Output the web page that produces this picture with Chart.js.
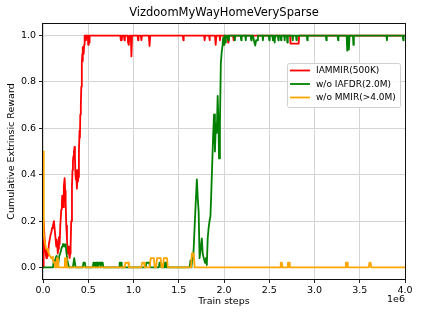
<!DOCTYPE html>
<html>
<head>
<meta charset="utf-8">
<script src="https://cdn.jsdelivr.net/npm/chart.js@4/dist/chart.umd.min.js"></script>
<style>
  html, body { margin: 0; padding: 0; background: #fff; }
  #wrap { width: 423px; height: 317px; }
</style>
</head>
<body>
<div id="wrap"><canvas id="rewardChart" width="423" height="317"></canvas></div>
<script>
// Train steps are in millions (axis shows "1e6" as multiplier)
const chartTitle = 'VizdoomMyWayHomeVerySparse';
const seriesLabels = ['IAMMIR(500K)', 'w/o IAFDR(2.0M)', 'w/o MMIR(>4.0M)'];
const xTicks = [0, 0.5, 1.0, 1.5, 2.0, 2.5, 3.0, 3.5, 4.0];
const yTicks = [0, 0.2, 0.4, 0.6, 0.8, 1.0];

const iammirSteps = [
  0, 0.007, 0.018, 0.029, 0.037, 0.044, 0.055, 0.065, 0.074, 0.083, 0.092, 0.1, 0.11, 0.121, 0.13, 0.14,
  0.147, 0.152, 0.158, 0.163, 0.169, 0.176, 0.184, 0.191, 0.202, 0.208, 0.213, 0.221, 0.228, 0.232, 0.239,
  0.245, 0.25, 0.257, 0.265, 0.27, 0.276, 0.282, 0.287, 0.294, 0.3, 0.305, 0.312, 0.32, 0.326, 0.331,
  0.336, 0.342, 0.349, 0.353, 0.357, 0.362, 0.368, 0.375, 0.382, 0.386, 0.39, 0.397, 0.404, 0.408, 0.412,
  0.418, 0.423, 0.429, 0.434, 0.438, 0.441, 0.449, 0.455, 0.46,
  0.47, 0.475, 0.48, 0.495, 0.5, 0.505, 0.51, 0.515,
  0.855, 0.86, 0.87, 0.875, 0.895, 0.9, 0.905, 0.935, 0.94, 0.945, 0.95, 0.955, 0.97, 0.977, 0.985,
  1.045, 1.05, 1.055, 1.08, 1.087, 1.094, 1.17, 1.177, 1.185, 1.545, 1.55, 1.555, 1.78, 1.786, 1.792,
  1.835, 1.84, 1.845, 1.9, 1.908, 1.916, 1.95, 1.955, 1.96, 2.004, 2.01, 2.016, 2.04, 2.045, 2.05,
  2.1, 2.107, 2.114, 2.73, 2.735, 2.825, 2.83, 4.0
];
const iammirReward = [
  0, 0.2, 0.12, 0.06, 0.04, 0.08, 0.05, 0.1, 0.12, 0.14, 0.15, 0.17, 0.18, 0.2, 0.16, 0.12,
  0.09, 0.12, 0.1, 0.06, 0.08, 0.13, 0.1, 0.18, 0.25, 0.28, 0.31, 0.26, 0.32, 0.35, 0.385,
  0.33, 0.29, 0.18, 0.12, 0.08, 0.06, 0.09, 0.07, 0.04, 0.06, 0.09, 0.2, 0.35, 0.42, 0.46,
  0.48, 0.5, 0.52, 0.47, 0.42, 0.38, 0.39, 0.34, 0.42, 0.37, 0.39, 0.5, 0.59, 0.56, 0.66,
  0.7, 0.78, 0.88, 0.92, 0.89, 0.95, 0.92, 0.96, 1.0,
  1.0, 0.98, 1.0, 1.0, 0.96, 1.0, 0.97, 1.0,
  1.0, 0.98, 0.98, 1.0, 1.0, 0.98, 1.0, 1.0, 0.97, 0.99, 0.96, 1.0, 1.0, 0.91, 1.0,
  1.0, 0.98, 1.0, 1.0, 0.98, 1.0, 1.0, 0.955, 1.0, 1.0, 0.98, 1.0, 1.0, 0.98, 1.0,
  1.0, 0.98, 1.0, 1.0, 0.96, 1.0, 1.0, 0.98, 1.0, 1.0, 0.98, 1.0, 1.0, 0.97, 1.0,
  1.0, 0.98, 1.0, 1.0, 0.965, 0.965, 1.0, 1.0
];

const iafdrSteps = [
  0, 0.11, 0.12, 0.13, 0.14, 0.15, 0.16, 0.17, 0.18, 0.19, 0.2, 0.21, 0.22, 0.23, 0.24, 0.25, 0.26, 0.27, 0.28, 0.29,
  0.33, 0.345, 0.36, 0.44, 0.447, 0.463, 0.47,
  0.55, 0.557, 0.57, 0.577, 0.585, 0.6, 0.607, 0.615, 0.63, 0.637, 0.645, 0.66, 0.667,
  0.84, 0.847, 0.863, 0.87, 1.135, 1.142, 1.175, 1.182, 1.28, 1.287, 1.3, 1.307, 1.34, 1.347, 1.36, 1.367,
  1.62, 1.63, 1.64, 1.65, 1.66, 1.676, 1.69, 1.7, 1.71, 1.72, 1.73, 1.74, 1.755, 1.765, 1.776, 1.79,
  1.8, 1.81, 1.82, 1.83, 1.84, 1.85, 1.86, 1.87, 1.88, 1.89, 1.9, 1.91, 1.92, 1.93, 1.94, 1.945,
  1.955, 1.965, 1.975, 1.985, 1.99, 2.0, 2.005, 2.015, 2.02, 2.03, 2.04, 2.05, 2.055,
  2.115, 2.12, 2.125, 2.185, 2.19, 2.195, 2.235, 2.24, 2.245, 2.295, 2.3, 2.305, 2.32, 2.33, 2.345, 2.355, 2.37, 2.375,
  2.425, 2.43, 2.435, 2.495, 2.5, 2.505, 2.535, 2.54, 2.55, 2.56, 2.565, 2.595, 2.6, 2.605, 2.625, 2.63, 2.635,
  2.665, 2.67, 2.675, 2.695, 2.7, 2.705, 2.755, 2.76, 2.765, 2.795, 2.8, 2.805, 2.915, 2.92, 2.925,
  3.125, 3.13, 3.135, 3.255, 3.26, 3.265, 3.355, 3.362, 3.372, 3.38, 3.387, 3.425, 3.43, 3.435,
  3.795, 3.8, 3.805, 3.975, 3.98, 3.985, 4.0
];
const iafdrReward = [
  0, 0, 0.03, 0.02, 0.04, 0.05, 0.03, 0.02, 0.05, 0.06, 0.075, 0.09, 0.1, 0.1, 0.09, 0.1, 0.06, 0.03, 0.01, 0,
  0, 0.04, 0, 0, 0.02, 0.02, 0,
  0, 0.02, 0.02, 0, 0.02, 0.02, 0, 0.02, 0.02, 0, 0.02, 0.02, 0,
  0, 0.02, 0.02, 0, 0, 0.02, 0.02, 0, 0, 0.02, 0.02, 0, 0, 0.02, 0.02, 0,
  0, 0.03, 0, 0.04, 0.04, 0.18, 0.3, 0.38, 0.3, 0.24, 0.04, 0.07, 0.125, 0.06, 0.04, 0.02,
  0.04, 0.01, 0.125, 0.17, 0.2, 0.22, 0.33, 0.45, 0.57, 0.66, 0.5, 0.62, 0.58, 0.74, 0.6, 0.47,
  0.62, 0.88, 0.93, 0.96, 0.99, 0.96, 1.0, 0.97, 1.0, 0.99, 1.0, 0.98, 1.0,
  1.0, 0.98, 1.0, 1.0, 0.98, 1.0, 1.0, 0.98, 1.0, 1.0, 0.98, 1.0, 1.0, 0.98, 0.957, 0.98, 0.98, 1.0,
  1.0, 0.98, 1.0, 1.0, 0.98, 1.0, 1.0, 0.98, 1.0, 0.97, 1.0, 1.0, 0.98, 1.0, 1.0, 0.98, 1.0,
  1.0, 0.98, 1.0, 1.0, 0.97, 1.0, 1.0, 0.98, 1.0, 1.0, 0.98, 1.0, 1.0, 0.98, 1.0,
  1.0, 0.98, 1.0, 1.0, 0.98, 1.0, 1.0, 0.935, 1.0, 0.94, 1.0, 1.0, 0.96, 1.0,
  1.0, 0.98, 1.0, 1.0, 0.98, 1.0, 1.0
];

const mmirSteps = [
  0.004, 0.008, 0.016, 0.025, 0.034, 0.045, 0.055, 0.065, 0.075, 0.09, 0.1, 0.11, 0.12, 0.13, 0.135,
  0.145, 0.152, 0.165, 0.172, 0.235, 0.242, 0.255, 0.262,
  0.903, 0.91, 0.943, 0.95, 1.087, 1.095, 1.117, 1.124, 1.18, 1.19, 1.225, 1.234,
  1.25, 1.26, 1.3, 1.31, 1.325, 1.335, 1.37, 1.38, 1.635, 1.645, 1.665, 1.676,
  2.62, 2.627, 2.64, 2.647, 2.7, 2.707, 2.72, 2.727, 3.34, 3.347, 3.36, 3.367, 3.6, 3.607, 3.62, 3.627, 4.0
];
const mmirReward = [
  0.5, 0.15, 0.12, 0.1, 0.08, 0.08, 0.07, 0.06, 0.05, 0.04, 0.045, 0.03, 0.02, 0.025, 0,
  0, 0.04, 0.04, 0, 0, 0.04, 0.04, 0,
  0, 0.02, 0.02, 0, 0, 0.02, 0.02, 0, 0, 0.04, 0.04, 0,
  0, 0.04, 0.04, 0, 0, 0.04, 0.04, 0, 0, 0.06, 0.06, 0,
  0, 0.02, 0.02, 0, 0, 0.02, 0.02, 0, 0, 0.02, 0.02, 0, 0, 0.02, 0.02, 0, 0
];

const seriesColors = ['#ff0000', '#008000', '#ffa500'];

function toPoints(xs, ys) {
  return xs.map((x, i) => ({ x: x, y: ys[i] }));
}

const FONT = "'DejaVu Sans', sans-serif";

// Title, axis titles, frame, offset text and legend drawn on the canvas
const decorPlugin = {
  id: 'decor',
  afterDraw(chart) {
    const ctx = chart.ctx;
    const a = chart.chartArea;
    ctx.save();

    // frame
    ctx.strokeStyle = '#111';
    ctx.lineWidth = 1;
    ctx.strokeRect(Math.round(a.left) - 0.5, Math.round(a.top) - 0.5,
      Math.round(a.right - a.left) + 1, Math.round(a.bottom - a.top) + 1);

    ctx.fillStyle = '#000';
    ctx.textAlign = 'center';
    ctx.textBaseline = 'middle';
    ctx.font = '11.5px ' + FONT;
    ctx.fillText(chartTitle, (a.left + a.right) / 2, 13);

    ctx.font = '9.5px ' + FONT;
    ctx.fillText('Train steps', (a.left + a.right) / 2, 302);
    ctx.textAlign = 'right';
    ctx.fillText('1e6', a.right, 300);

    ctx.save();
    ctx.translate(12, (a.top + a.bottom) / 2);
    ctx.rotate(-Math.PI / 2);
    ctx.textAlign = 'center';
    ctx.fillText('Cumulative Extrinsic Reward', 0, 0);
    ctx.restore();

    // legend
    const lx = 287, ly = 63, lw = 113, lh = 44;
    ctx.beginPath();
    ctx.roundRect(lx + 0.5, ly + 0.5, lw, lh, 2);
    ctx.fillStyle = 'rgba(255,255,255,0.85)';
    ctx.fill();
    ctx.strokeStyle = '#d0d0d0';
    ctx.stroke();
    ctx.textAlign = 'left';
    ctx.font = '9px ' + FONT;
    seriesLabels.forEach((label, i) => {
      const y = ly + 7.5 + i * 13.5;
      ctx.strokeStyle = seriesColors[i];
      ctx.lineWidth = 1.8;
      ctx.beginPath();
      ctx.moveTo(lx + 3, y);
      ctx.lineTo(lx + 23, y);
      ctx.stroke();
      ctx.fillStyle = '#000';
      ctx.fillText(label, lx + 29, y + 0.5);
    });

    ctx.restore();
  }
};

const datasets = [
  { label: seriesLabels[0], data: toPoints(iammirSteps, iammirReward), order: 3 },
  { label: seriesLabels[1], data: toPoints(iafdrSteps, iafdrReward), order: 2 },
  { label: seriesLabels[2], data: toPoints(mmirSteps, mmirReward), order: 1 }
].map((d, i) => Object.assign(d, {
  borderColor: seriesColors[i],
  backgroundColor: seriesColors[i],
  borderWidth: 1.8,
  borderJoinStyle: 'round',
  pointRadius: 0,
  tension: 0,
  fill: false
}));

const config = {
  type: 'line',
  data: { datasets: datasets },
  options: {
    responsive: false,
    animation: false,
    devicePixelRatio: 1,
    layout: { padding: { top: 24, right: 18, left: 0, bottom: 0 } },
    plugins: {
      legend: { display: false },
      title: { display: false },
      tooltip: { enabled: false }
    },
    scales: {
      x: {
        type: 'linear',
        min: 0,
        max: 4,
        afterFit: s => { s.height = 38; },
        afterBuildTicks: s => { s.ticks = xTicks.map(v => ({ value: v })); },
        border: { display: false },
        grid: { color: '#d4d4d4', tickColor: '#222', tickLength: 4, lineWidth: 1 },
        ticks: {
          callback: v => v.toFixed(1),
          color: '#000',
          font: { family: FONT, size: 9.5 },
          padding: 2,
          maxRotation: 0,
          autoSkip: false
        }
      },
      y: {
        type: 'linear',
        min: -0.05,
        max: 1.05,
        afterFit: s => { s.width = 43; },
        afterBuildTicks: s => { s.ticks = yTicks.map(v => ({ value: v })); },
        border: { display: false },
        grid: { color: '#d4d4d4', tickColor: '#222', tickLength: 4, lineWidth: 1 },
        ticks: {
          callback: v => v.toFixed(1),
          color: '#000',
          font: { family: FONT, size: 9.5 },
          padding: 3
        }
      }
    }
  },
  plugins: [decorPlugin]
};

new Chart(document.getElementById('rewardChart'), config);
</script>
</body>
</html>
